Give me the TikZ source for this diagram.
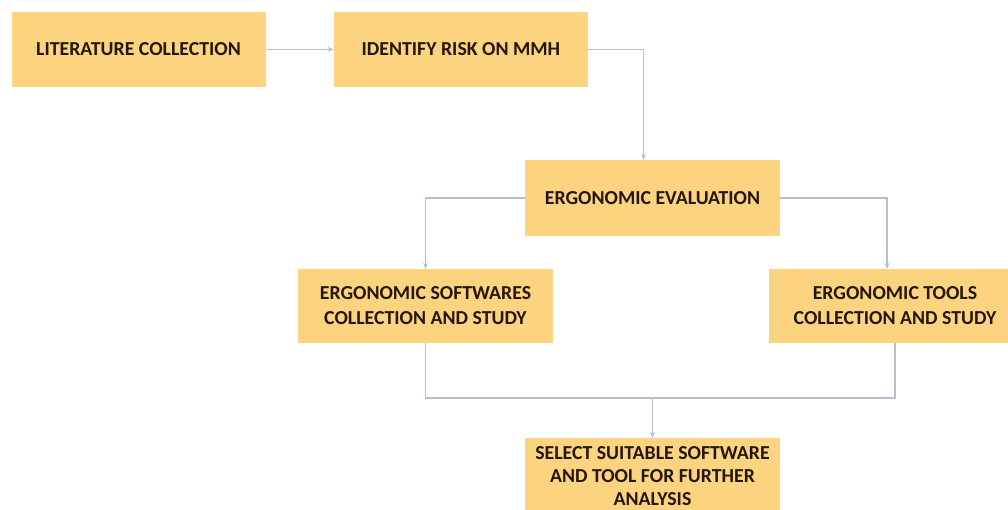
\documentclass[tikz,border=0pt]{standalone}
\usepackage{fontspec}
\setmainfont{Carlito}
\usepackage{tikz}
\usetikzlibrary{
  arrows.meta,
  calc,
  positioning
}
\definecolor{boxfill}{RGB}{252,212,128}
\definecolor{boxtext}{RGB}{36,22,10}
\definecolor{linkgray}{RGB}{184,190,204}

\begin{document}
\begin{tikzpicture}[
  x=1pt, y=1pt,
  block/.style={rectangle, fill=boxfill, minimum height=75pt, minimum width=254pt, inner sep=2pt,
    align=center, text=boxtext, font=\fontsize{19.8}{25}\selectfont\bfseries},
  link/.style={draw=linkgray, line width=1.4pt},
  arrow/.style={link, -{Stealth[length=6pt, width=5pt]}},
]
\useasboundingbox (0,0) rectangle (1008,-510);

% Nodes
\node[block] (lit) at (138.5,-49.5) {LITERATURE COLLECTION};
\node[block, right=68pt of lit] (risk) {IDENTIFY RISK ON MMH};
\node[block, minimum width=255pt, minimum height=76pt] (eval) at (652.5,-198) {ERGONOMIC EVALUATION};
\node[block, minimum width=255pt, minimum height=74pt] (soft) at (425.5,-306) {ERGONOMIC SOFTWARES\\COLLECTION AND STUDY};
\node[block, minimum width=252pt, minimum height=74pt] (tools) at (895,-306) {ERGONOMIC TOOLS\\COLLECTION AND STUDY};
\node[block, minimum width=255pt, minimum height=76pt, font=\fontsize{19.8}{23}\selectfont\bfseries] (sel) at (652.5,-476) {SELECT SUITABLE SOFTWARE\\AND TOOL FOR FURTHER\\ANALYSIS};
\coordinate (join) at (652.5,-398);

% Arrows
\draw[arrow] (lit) -- (risk);
\draw[arrow] (risk.east) -| ([xshift=-9pt]eval.north);
\draw[arrow] (eval.west) -| (soft.north);
\draw[arrow] (eval.east) -| ([xshift=-8pt]tools.north);
\draw[link] (soft.south) |- (join) -| (tools.south);
\draw[arrow] (join) -- (sel.north);
\end{tikzpicture}
\end{document}
